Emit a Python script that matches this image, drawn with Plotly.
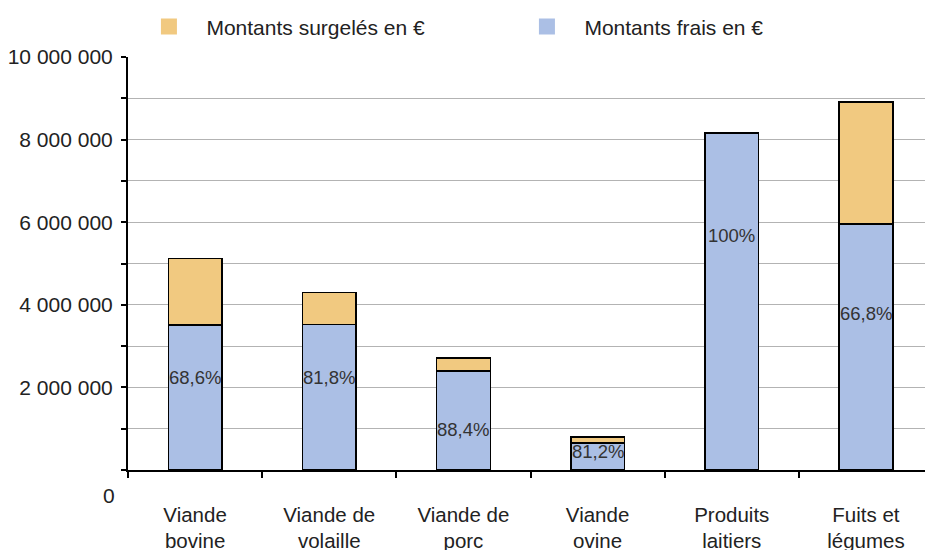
import plotly.graph_objects as go

# Data
CATEGORIES = ['Viande<br>bovine', 'Viande de<br>volaille', 'Viande de<br>porc',
              'Viande<br>ovine', 'Produits<br>laitiers', 'Fuits et<br>légumes']
FRAIS = [3510000, 3520000, 2400000, 650000, 8160000, 5960000]
SURGELES = [1610000, 780000, 315000, 150000, 0, 2950000]
PCT_FRAIS = [68.6, 81.8, 88.4, 81.2, 100, 66.8]
Y_TICKS = [0, 2000000, 4000000, 6000000, 8000000, 10000000]
Y_TICK_TEXT = ['', '2 000 000', '4 000 000', '6 000 000', '8 000 000', '10 000 000']

OUTPUT_FILE = 'out.html'
FONT = 'Liberation Sans, Arial, sans-serif'
TEXT_COLOR = '#222222'
COLOR_FRAIS = '#ABBFE5'
COLOR_SURG = '#F1C980'

# vertical placement of the percentage labels inside the bars
label_y = [2230000, 2230000, 990000, 440000, 5670000, 3800000]


def fmt_pct(v):
    s = f'{v:.1f}'.replace('.', ',')
    if s.endswith(',0'):
        s = s[:-2]
    return s + '%'


fig = go.Figure()

fig.add_trace(go.Bar(
    x=CATEGORIES, y=FRAIS, name='Montants frais en €', showlegend=False,
    marker=dict(color=COLOR_FRAIS, line=dict(color='black', width=1.5)),
    width=0.4
))
fig.add_trace(go.Bar(
    x=CATEGORIES, y=SURGELES, name='Montants surgelés en €', showlegend=False,
    marker=dict(color=COLOR_SURG, line=dict(color='black', width=1.5)),
    width=0.4
))

# legend entries (plain squares, no outline)
fig.add_trace(go.Scatter(
    x=[None], y=[None], mode='markers', name='\u00a0\u00a0\u00a0Montants frais en €',
    marker=dict(symbol='square', size=16, color=COLOR_FRAIS)
))
fig.add_trace(go.Scatter(
    x=[None], y=[None], mode='markers', name='\u00a0\u00a0\u00a0Montants surgelés en €',
    marker=dict(symbol='square', size=16, color=COLOR_SURG)
))

for cat, pct, ly in zip(CATEGORIES, PCT_FRAIS, label_y):
    fig.add_annotation(x=cat, y=ly, text=fmt_pct(pct), showarrow=False,
                       font=dict(size=18.5, color='#333333', family=FONT))

fig.add_annotation(x=0, xref='paper', y=0, yref='y', text='0', showarrow=False,
                   xanchor='right', xshift=-11, yshift=-25,
                   font=dict(size=21, color=TEXT_COLOR, family=FONT))

# the page body adds an 8px offset, so the figure is a bit smaller than the window
fig.update_layout(
    width=925, height=542,
    margin=dict(l=120, r=0, t=49, b=80, autoexpand=False),
    barmode='stack',
    plot_bgcolor='white', paper_bgcolor='white',
    font=dict(family=FONT, size=21, color=TEXT_COLOR),
    legend=dict(orientation='h', x=0.026, xanchor='left', y=1.073, yanchor='middle',
                traceorder='reversed', entrywidth=333, entrywidthmode='pixels',
                font=dict(size=21, family=FONT, color=TEXT_COLOR)),
    hovermode=False
)

fig.update_xaxes(
    automargin=False,
    showline=True, linecolor='black', linewidth=2,
    tickson='boundaries', ticks='outside', ticklen=6, tickwidth=2, tickcolor='black',
    ticklabelstandoff=25, showgrid=False,
    tickfont=dict(size=20.5)
)

fig.update_yaxes(
    automargin=False,
    range=[0, 10000000], tickvals=Y_TICKS, ticktext=Y_TICK_TEXT,
    showline=True, linecolor='black', linewidth=2,
    ticks='outside', ticklen=5, tickwidth=2, tickcolor='black',
    showgrid=True, gridcolor='#B3B3B3', gridwidth=1, zeroline=False,
    ticklabelstandoff=4,
    minor=dict(dtick=1000000, ticks='outside', ticklen=5, tickwidth=2, tickcolor='black',
               showgrid=True, gridcolor='#B3B3B3', gridwidth=1)
)

fig.write_html(OUTPUT_FILE)
